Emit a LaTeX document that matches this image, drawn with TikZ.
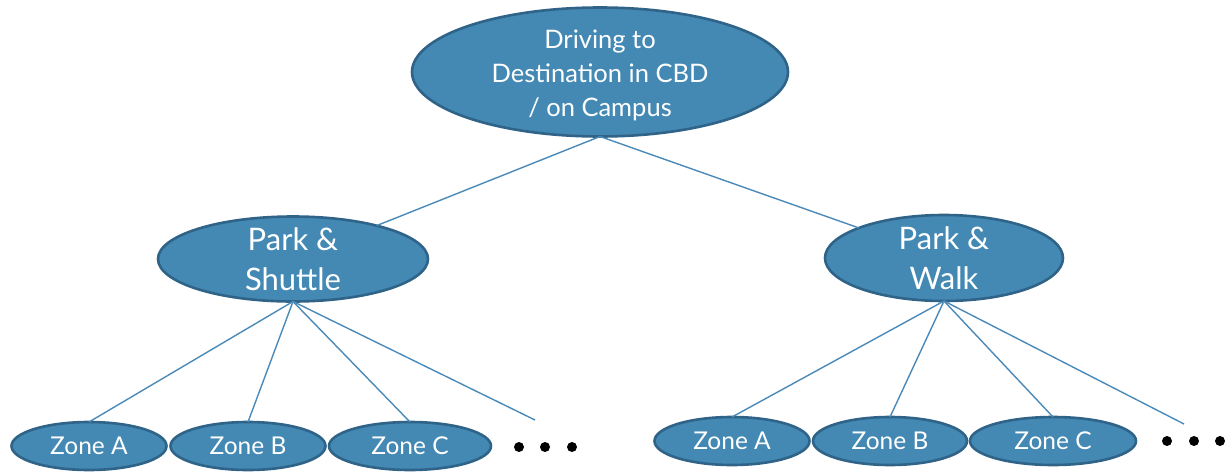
\documentclass[tikz,border=0pt]{standalone}
\usepackage{fontspec}
\setmainfont{Lato}
\usetikzlibrary{shapes.geometric}
\definecolor{ellfill}{RGB}{67,137,180}
\definecolor{ellline}{RGB}{47,99,136}
\definecolor{conn}{RGB}{74,138,184}
\tikzset{
  ell/.style={ellipse, draw=ellline, line width=2.6pt, fill=ellfill, inner sep=0pt, outer sep=0pt},
  ltxt/.style={text=white, align=center, inner sep=0pt},
  conline/.style={draw=conn, line width=1.4pt},
  dotmark/.style={circle, fill=black, inner sep=0pt, minimum size=10pt},
}
\begin{document}
\begin{tikzpicture}[x=1pt,y=-1pt]
\useasboundingbox (0,0) rectangle (1225,471);
% top
\node[ell, minimum width=376, minimum height=129,
  label={[ltxt, font=\fontsize{25.5}{34}\selectfont, yshift=-3pt]center:Driving to\\Destination in CBD\\/ on Campus}] (top) at (600,72) {};
% second level
\node[ell, minimum width=270, minimum height=85,
  label={[ltxt, font=\fontsize{31}{40}\selectfont]center:Park \&\\Shuttle}] (ps) at (293,259) {};
\node[ell, minimum width=238, minimum height=86,
  label={[ltxt, font=\fontsize{31}{40}\selectfont]center:Park \&\\Walk}] (pw) at (944,258) {};
% zones left
\tikzset{ztxt/.style={ltxt, font=\fontsize{24.5}{28}\selectfont}}
\node[ell, minimum width=155, minimum height=48, label={[ztxt]center:Zone A}] (la) at (89,446) {};
\node[ell, minimum width=155, minimum height=48, label={[ztxt]center:Zone B}] (lb) at (248,446) {};
\node[ell, minimum width=162, minimum height=48, label={[ztxt]center:Zone C}] (lc) at (410,446) {};
% zones right
\node[ell, minimum width=155, minimum height=48, label={[ztxt]center:Zone A}] (ra) at (732,441) {};
\node[ell, minimum width=154, minimum height=48, label={[ztxt]center:Zone B}] (rb) at (890,441) {};
\node[ell, minimum width=166, minimum height=48, label={[ztxt]center:Zone C}] (rc) at (1053,441) {};
% dots
\node[dotmark] (ld1) at (519,447) {};
\node[dotmark] (ld2) at (545,447) {};
\node[dotmark] (ld3) at (572,447) {};
\node[dotmark] (rd1) at (1167,441) {};
\node[dotmark] (rd2) at (1194,441) {};
\node[dotmark] (rd3) at (1220,441) {};
\coordinate (lend) at (535,420);
\coordinate (rend) at (1184,424);
% connectors
\draw[conline] (top.south) -- (ps);
\draw[conline] (top.south) -- (pw);
\draw[conline] (ps.south) -- (la.north);
\draw[conline] (ps.south) -- (lb.north);
\draw[conline] (ps.south) -- (lc.north);
\draw[conline] (ps.south) -- (lend);
\draw[conline] (pw.south) -- (ra.north);
\draw[conline] (pw.south) -- (rb.north);
\draw[conline] (pw.south) -- (rc.north);
\draw[conline] (pw.south) -- (rend);
\end{tikzpicture}
\end{document}
